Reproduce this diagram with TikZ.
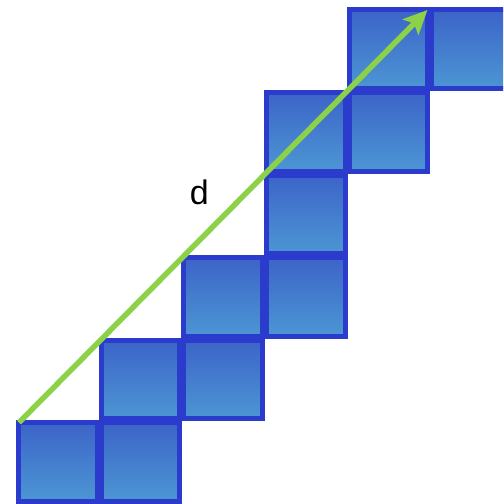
\documentclass[tikz,border=0pt]{standalone}
\usepackage{fontspec}
\setmainfont{Liberation Sans}
\usetikzlibrary{arrows.meta}
\definecolor{cellline}{RGB}{43,59,203}
\definecolor{celltop}{RGB}{60,100,200}
\definecolor{cellbot}{RGB}{76,150,212}
\definecolor{arrowgreen}{RGB}{140,210,72}
\tikzset{cell/.style={draw=cellline, line width=5pt, top color=celltop, bottom color=cellbot, minimum size=78.5pt, inner sep=0pt, outer sep=0pt}}

\begin{document}
\begin{tikzpicture}[x=82.5pt,y=82.5pt]
\useasboundingbox (-0.206,-0.012) rectangle (5.891,6.097);
\clip (-0.206,-0.012) rectangle (5.891,6.097);
\node[cell] (c00) at (0.5,0.5) {};
\node[cell] (c10) at (1.5,0.5) {};
\node[cell] (c11) at (1.5,1.5) {};
\node[cell] (c21) at (2.5,1.5) {};
\node[cell] (c22) at (2.5,2.5) {};
\node[cell] (c32) at (3.5,2.5) {};
\node[cell] (c33) at (3.5,3.5) {};
\node[cell] (c34) at (3.5,4.5) {};
\node[cell] (c44) at (4.5,4.5) {};
\node[cell] (c45) at (4.5,5.5) {};
\node[cell] (c55) at (5.5,5.5) {};
\draw[arrowgreen, line width=5.5pt, -{Stealth[length=24pt,width=22pt,inset=5pt]}] (c00.north west) -- (c45.north east);
\node[font=\fontsize{34}{40}\selectfont] (dlabel) at (2.21,3.77) {d};
\end{tikzpicture}
\end{document}
